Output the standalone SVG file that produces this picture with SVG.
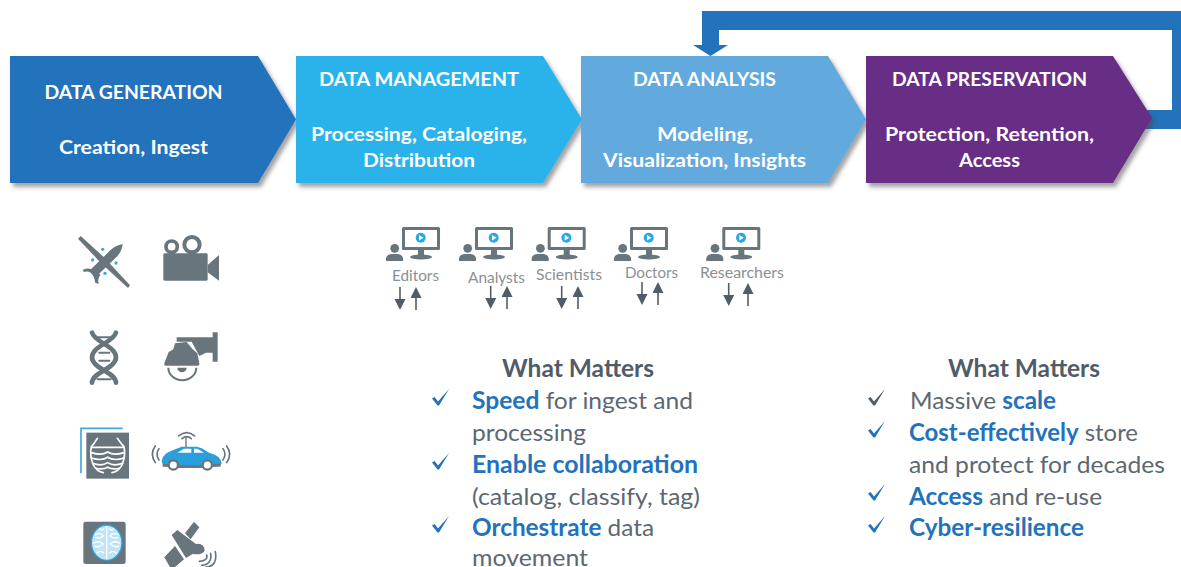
<svg xmlns="http://www.w3.org/2000/svg" width="1181" height="567" viewBox="0 0 1181 567">
<style>
text{font-family:"Lato","Open Sans","Liberation Sans",sans-serif}
.h{font-size:19px;font-weight:700;fill:#fff;text-anchor:middle}
.u{font-size:15.5px;fill:#8b9094;text-anchor:middle}
.wm{font-size:24px;font-weight:700;fill:#505d68;text-anchor:middle}
.b{font-size:24px;fill:#5b6872}
.k{font-weight:700;fill:#2272bc}
.chk{fill:#2272bc}
.chkd{fill:#505d68}
.g{fill:#68757d}
.ar{stroke:#505d68;stroke-width:1.6;fill:none;marker-end:url(#ah)}
.s{fill:none;stroke:#68757d;stroke-linecap:round}
.w{fill:none;stroke:#fff;stroke-width:5;stroke-linecap:round}
</style>
<defs>
<filter id="sh" x="-5%" y="-10%" width="115%" height="125%"><feDropShadow dx="3" dy="4" stdDeviation="2" flood-color="#444" flood-opacity=".5"/></filter>
<marker id="ah" markerUnits="userSpaceOnUse" markerWidth="12" markerHeight="12" refX="0" refY="5.5" orient="auto"><path d="M0,0L11,5.500L0,11z" fill="#505d68"/></marker>
<path id="tick" d="M0,9.500L2.600,8L6,12.500L17,0L7,16.500H5.500z"/>
<g id="user">
<rect x="0" y="0" width="38" height="23" rx="1.500" fill="#68757d"/>
<rect x="3" y="3" width="32" height="17" fill="#fff"/>
<circle cx="18.700" cy="10.700" r="5" fill="#29a9e1"/>
<path d="M17,8L17,13.500L21.500,10.700z" fill="#fff"/>
<path d="M16,23H22V28H16z" fill="#68757d"/>
<ellipse cx="19" cy="30" rx="11" ry="2.400" fill="#68757d"/>
<circle cx="-7.300" cy="21.300" r="4.400" fill="#68757d"/>
<path d="M-16,34V31Q-15,27.500 -11,27H-4Q0,27.500 1,31V34z" fill="#68757d"/>
</g>
</defs>
<g id="connectors">
<path id="loop" d="M702,45V11H1181V129H1130V110H1172V30H719V45H728L710.500,56L693,45z" fill="#2272bc"/>
</g>
<g id="data-generation">
<path d="M10,56H258L296,119.500L258,183H10z" fill="#2272bc" filter="url(#sh)"/>
<text class="h" x="133.500" y="99" textLength="178" lengthAdjust="spacingAndGlyphs">DATA GENERATION</text>
<text class="h" x="133.500" y="154" textLength="149" lengthAdjust="spacingAndGlyphs">Creation, Ingest</text>
</g>
<g id="data-management">
<path d="M296,56H543L582,119.500L543,183H296z" fill="#29b3ea" filter="url(#sh)"/>
<text class="h" x="419" y="86" textLength="200" lengthAdjust="spacingAndGlyphs">DATA MANAGEMENT</text>
<text class="h" x="419" y="141" textLength="216" lengthAdjust="spacingAndGlyphs">Processing, Cataloging,</text>
<text class="h" x="419" y="167" textLength="112" lengthAdjust="spacingAndGlyphs">Distribution</text>
</g>
<g id="data-analysis">
<path d="M581,56H828L866,119.500L828,183H581z" fill="#62a9dd" filter="url(#sh)"/>
<text class="h" x="704.500" y="86" textLength="143" lengthAdjust="spacingAndGlyphs">DATA ANALYSIS</text>
<text class="h" x="705" y="141" textLength="96" lengthAdjust="spacingAndGlyphs">Modeling,</text>
<text class="h" x="704.500" y="167" textLength="203" lengthAdjust="spacingAndGlyphs">Visualization, Insights</text>
</g>
<g id="data-preservation">
<path d="M866,56H1113L1152,118L1113,183H866z" fill="#682d86" filter="url(#sh)"/>
<text class="h" x="989.500" y="86" textLength="195" lengthAdjust="spacingAndGlyphs">DATA PRESERVATION</text>
<text class="h" x="989.500" y="141" textLength="209" lengthAdjust="spacingAndGlyphs">Protection, Retention,</text>
<text class="h" x="989.500" y="167" textLength="61" lengthAdjust="spacingAndGlyphs">Access</text>
</g>
<g id="source-icons" transform="translate(60,220) scale(.3333)">
<g id="icon-drone">
<path d="M54,56L62,48L132,112L210,196L204,204L122,128z" class="g"/>
<path d="M88,152L142,100Q160,78 188,72Q186,98 164,116L108,170z" class="g"/>
<path d="M68,150Q80,140 108,152L122,166Q112,172 116,192L106,188Q102,166 92,158Q82,152 72,156z" class="g"/>
<g fill="#3fa9dc"><circle cx="98" cy="120" r="5"/><circle cx="168" cy="129" r="5"/><circle cx="128" cy="88" r="5"/><circle cx="135" cy="160" r="5"/></g>
</g>
<g id="icon-camera">
<circle cx="335" cy="80" r="17" fill="none" stroke="#68757d" stroke-width="11"/>
<circle cx="396" cy="74" r="23" fill="none" stroke="#68757d" stroke-width="12"/>
<rect x="310" y="100" width="133" height="82" rx="4" class="g"/>
<path d="M443,135L477,105V182L443,157z" class="g"/>
</g>
<g id="icon-dna">
<path d="M96,338C105,368 168,378 168,412C168,446 96,456 96,488" class="s" stroke-width="14"/>
<path d="M168,338C159,368 96,378 96,412C96,446 168,456 168,488" class="s" stroke-width="14"/>
<path d="M115,352H150M118,398H148M118,422H148M113,478H152" class="s" stroke-width="6"/>
</g>
<g id="icon-dome">
<path d="M458,337H473V425H458V398H438L418,408L395,365L350,365V352H458z" class="g"/>
<path d="M313,430L326,396L340,388L345,370L380,366L398,388L412,400L418,430z" class="g"/>
<rect x="313" y="428" width="105" height="9" rx="4" class="g"/>
<path d="M325,443A42,38 0 0 0 409,443" fill="none" stroke="#68757d" stroke-width="6"/>
<path d="M352,443A14,14 0 0 0 380,443z" class="g"/>
</g>
<g id="icon-xray">
<path d="M188,625H63V760" fill="none" stroke="#3fa9dc" stroke-width="5"/>
<rect x="79" y="638" width="128" height="138" class="g"/>
<g class="w"><path d="M112,655Q102,672 94,680Q88,705 100,735Q110,755 130,758"/><path d="M172,655Q184,672 192,680Q198,705 186,735Q176,755 156,758"/><path d="M96,682H190"/><path d="M94,698Q125,708 143,696Q161,708 192,698"/><path d="M94,714Q125,724 143,712Q161,724 192,714"/><path d="M98,730Q125,740 143,728Q161,740 188,730"/><path d="M108,745Q128,750 143,742Q158,750 178,745"/></g>
</g>
<g id="icon-car">
<path d="M305,722Q308,700 340,690L365,680H410Q425,682 447,698Q482,706 485,730Q482,740 460,740H325Q306,740 305,722z" fill="#29a0dc"/>
<path d="M352,698L372,686H394V698zM402,686H412L432,698H402z" fill="#fff"/>
<circle cx="340" cy="735" r="14" fill="#fff" stroke="#68757d" stroke-width="7"/>
<circle cx="442" cy="735" r="14" fill="#fff" stroke="#68757d" stroke-width="7"/>
<path d="M354,736H428V744H354zM308,732H326V740H308zM456,732H482V740H456z" class="g"/>
<path d="M378,682V652" stroke="#68757d" stroke-width="4"/>
<path d="M366,656Q380,644 394,656M356,648Q380,628 404,648M362,640" class="s" stroke-width="5"/>
<path d="M286,678Q268,702 286,728M297,686Q285,703 297,720M500,678Q518,702 500,728M489,686Q501,703 489,720" class="s" stroke-width="5"/>
</g>
<g id="icon-brain">
<rect x="70" y="905" width="127" height="127" rx="7" class="g"/>
<ellipse cx="140" cy="968" rx="46" ry="53" fill="#bfe4f7" stroke="#29a0dc" stroke-width="4"/>
<path d="M140,918V1018M105,945Q120,935 130,948Q118,958 105,952M175,945Q160,935 150,948Q162,958 175,952M100,970Q115,960 130,972Q115,985 102,978M180,970Q165,960 150,972Q165,985 178,978M110,1000Q122,988 132,1000M170,1000Q158,988 148,1000M118,925Q128,935 132,925M162,925Q152,935 148,925" fill="none" stroke="#fff" stroke-width="4"/>
</g>
<g id="icon-satellite">
<path d="M313,1012L345,978L372,1018L335,1050zM375,940L402,905L418,922L392,958z" class="g"/>
<path d="M335,945L352,930L408,972Q432,968 434,992Q426,1006 398,1002L378,1014z" class="g"/>
<path d="M440,1005Q445,1022 418,1024M452,1000Q458,1032 425,1036M466,995Q474,1040 436,1042" class="s" stroke-width="5"/>
</g>
</g>
<g id="editors"><use href="#user" x="402" y="227"/><text class="u" x="415.500" y="281" textLength="47" lengthAdjust="spacingAndGlyphs">Editors</text></g>
<g id="analysts"><use href="#user" x="475" y="227"/><text class="u" x="496.500" y="283" textLength="57" lengthAdjust="spacingAndGlyphs">Analysts</text></g>
<g id="scientists"><use href="#user" x="547.700" y="227"/><text class="u" x="569" y="280" textLength="66" lengthAdjust="spacingAndGlyphs">Scientists</text></g>
<g id="doctors"><use href="#user" x="630" y="227"/><text class="u" x="651.500" y="278" textLength="53" lengthAdjust="spacingAndGlyphs">Doctors</text></g>
<g id="researchers"><use href="#user" x="722.300" y="227"/><text class="u" x="742" y="278" textLength="84" lengthAdjust="spacingAndGlyphs">Researchers</text></g>
<g id="user-arrows">
<path class="ar" d="M400,287V299"/><path class="ar" d="M416,310V298"/>
<path class="ar" d="M490.700,286V298"/><path class="ar" d="M507,309V297"/>
<path class="ar" d="M561.700,286V298"/><path class="ar" d="M578,309V297"/>
<path class="ar" d="M642,282V294"/><path class="ar" d="M658,305V293"/>
<path class="ar" d="M728.700,283V295"/><path class="ar" d="M748,306V294"/>
</g>
<g id="what-matters-left">
<text class="wm" x="578" y="377" textLength="152" lengthAdjust="spacingAndGlyphs">What Matters</text>
<use href="#tick" class="chk" x="432" y="389"/><use href="#tick" class="chk" x="432" y="453"/><use href="#tick" class="chk" x="432" y="516"/>
<text class="b" x="472" y="409" textLength="221" lengthAdjust="spacingAndGlyphs"><tspan class="k">Speed</tspan> for ingest and</text>
<text class="b" x="472" y="441" textLength="114" lengthAdjust="spacingAndGlyphs">processing</text>
<text class="b k" x="472" y="473" textLength="226" lengthAdjust="spacingAndGlyphs">Enable collaboration</text>
<text class="b" x="472" y="505" textLength="228" lengthAdjust="spacingAndGlyphs">(catalog, classify, tag)</text>
<text class="b" x="472" y="536" textLength="182" lengthAdjust="spacingAndGlyphs"><tspan class="k">Orchestrate</tspan> data</text>
<text class="b" x="472" y="566" textLength="116" lengthAdjust="spacingAndGlyphs">movement</text>
</g>
<g id="what-matters-right">
<text class="wm" x="1024" y="377" textLength="152" lengthAdjust="spacingAndGlyphs">What Matters</text>
<use href="#tick" class="chkd" x="868" y="389"/><use href="#tick" class="chk" x="868" y="421"/><use href="#tick" class="chk" x="868" y="484"/><use href="#tick" class="chk" x="868" y="516"/>
<text class="b" x="910" y="409" textLength="146" lengthAdjust="spacingAndGlyphs">Massive <tspan class="k">scale</tspan></text>
<text class="b" x="909" y="441" textLength="229" lengthAdjust="spacingAndGlyphs"><tspan class="k">Cost-effectively</tspan> store</text>
<text class="b" x="909" y="473" textLength="256" lengthAdjust="spacingAndGlyphs">and protect for decades</text>
<text class="b" x="909" y="505" textLength="193" lengthAdjust="spacingAndGlyphs"><tspan class="k">Access</tspan> and re-use</text>
<text class="b k" x="909" y="536" textLength="175" lengthAdjust="spacingAndGlyphs">Cyber-resilience</text>
</g>
</svg>
